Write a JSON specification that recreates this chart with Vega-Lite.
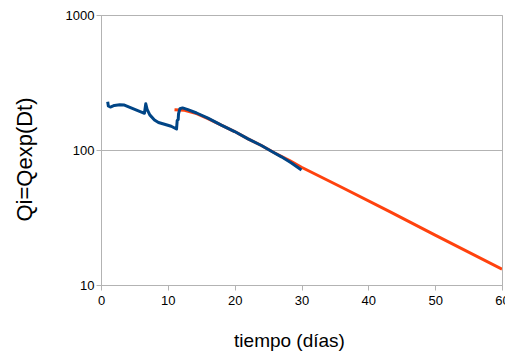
{
  "$schema": "https://vega.github.io/schema/vega-lite/v6.json",
  "width": 401,
  "height": 270,
  "autosize": {"type": "none"},
  "padding": {"left": 101, "top": 15, "right": 3, "bottom": 71},
  "background": "white",
  "config": {
    "view": {"stroke": "#b3b3b3", "strokeWidth": 1},
    "axis": {
      "labelFont": "Liberation Sans",
      "labelFontSize": 13,
      "labelColor": "#000000",
      "titleFont": "Liberation Sans",
      "titleFontWeight": "normal",
      "titleColor": "#000000",
      "domainColor": "#b3b3b3",
      "tickColor": "#b3b3b3",
      "gridColor": "#b3b3b3",
      "tickSize": 5
    }
  },
  "datasets": {
    "real": [
      {"t": 1.0, "q": 228}, {"t": 1.1, "q": 212}, {"t": 1.4, "q": 208}, {"t": 2.0, "q": 214},
      {"t": 2.8, "q": 216}, {"t": 3.5, "q": 215}, {"t": 4.5, "q": 205}, {"t": 5.5, "q": 196},
      {"t": 6.5, "q": 187}, {"t": 6.7, "q": 220}, {"t": 6.9, "q": 200}, {"t": 7.3, "q": 182},
      {"t": 8.0, "q": 167}, {"t": 8.6, "q": 160}, {"t": 9.5, "q": 155}, {"t": 10.5, "q": 150},
      {"t": 11.3, "q": 143}, {"t": 11.4, "q": 165}, {"t": 11.55, "q": 168}, {"t": 11.6, "q": 185},
      {"t": 11.8, "q": 202}, {"t": 12.2, "q": 205}, {"t": 13.0, "q": 199}, {"t": 14.3, "q": 188},
      {"t": 16.0, "q": 172}, {"t": 18.0, "q": 153}, {"t": 20.0, "q": 137}, {"t": 22.0, "q": 121},
      {"t": 24.0, "q": 108}, {"t": 25.5, "q": 98}, {"t": 27.0, "q": 89}, {"t": 28.5, "q": 80},
      {"t": 30.0, "q": 71}
    ],
    "ajuste": [
      {"t": 11.0, "q": 199}, {"t": 12.5, "q": 197}, {"t": 14.3, "q": 186}, {"t": 16.0, "q": 171},
      {"t": 18.0, "q": 153}, {"t": 20.0, "q": 137}, {"t": 22.0, "q": 121}, {"t": 24.0, "q": 108},
      {"t": 26.0, "q": 95}, {"t": 28.3, "q": 83}, {"t": 30.0, "q": 74.5}, {"t": 36.0, "q": 53},
      {"t": 43.2, "q": 35}, {"t": 50.0, "q": 23.4}, {"t": 60.0, "q": 13.1}
    ]
  },
  "encoding": {
    "x": {
      "field": "t", "type": "quantitative",
      "scale": {"domain": [0, 60], "nice": false, "zero": false},
      "axis": {
        "values": [0, 10, 20, 30, 40, 50, 60],
        "grid": false,
        "title": "tiempo (días)",
        "titleFontSize": 19,
        "labelPadding": 4,
        "labelFlush": false,
        "labelBound": false,
        "labelOverlap": false,
        "titleX": 188,
        "titleY": 46,
        "titleAlign": "center",
        "titleBaseline": "top"
      }
    },
    "y": {
      "field": "q", "type": "quantitative",
      "scale": {"type": "log", "domain": [10, 1000], "nice": false},
      "axis": {
        "values": [10, 100, 1000],
        "format": "d",
        "grid": true,
        "title": "Qi=Qexp(Dt)",
        "titleFontSize": 22,
        "labelPadding": 2,
        "labelFlush": false,
        "labelOverlap": false,
        "titleX": -77,
        "titleY": 144,
        "titleAngle": -90,
        "titleAlign": "center",
        "titleBaseline": "middle"
      }
    }
  },
  "layer": [
    {
      "data": {"name": "ajuste"},
      "mark": {"type": "line", "color": "#ff420e", "strokeWidth": 3, "clip": true}
    },
    {
      "data": {"name": "real"},
      "mark": {"type": "line", "color": "#004586", "strokeWidth": 3, "strokeJoin": "round"}
    }
  ]
}
